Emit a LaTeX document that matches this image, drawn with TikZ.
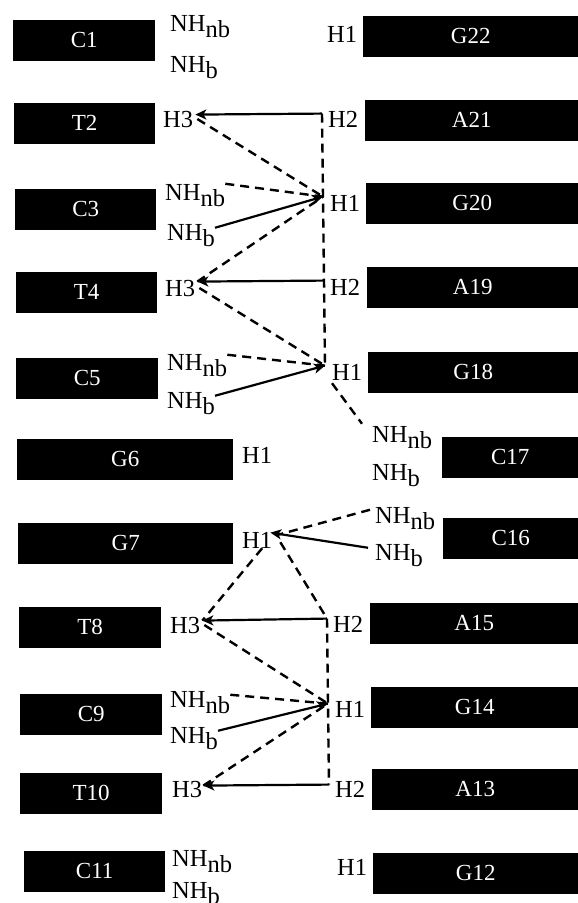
\documentclass[tikz,border=0pt]{standalone}
\usepackage{fontspec}
\setmainfont{Liberation Serif}
\usetikzlibrary{arrows.meta}
\usetikzlibrary{calc}
\newcommand{\lowsub}[1]{\raisebox{-6.5pt}{#1}}

\begin{document}
\begin{tikzpicture}[x=1pt, y=-1pt,
    strand/.style={fill=black, text=white, inner sep=0pt, minimum height=41pt, anchor=west, font=\fontsize{23}{23}\selectfont},
    lab/.style={inner sep=0pt, anchor=base west, font=\fontsize{24.5}{24.5}\selectfont},
    hbond/.style={line width=2.4pt, dash pattern=on 9pt off 6pt},
    bond/.style={line width=2.2pt},
    tip/.style={-{Stealth[length=11pt,width=10pt,inset=3pt]}}]
  \useasboundingbox (0,0) rectangle (578,903);

  \node[strand, minimum width=142pt] (c1) at (13,40) {C1};
  \node[strand, minimum width=141pt] (t2) at (14,123) {T2};
  \node[strand, minimum width=141pt] (c3) at (15,209) {C3};
  \node[strand, minimum width=141pt] (t4) at (16,292) {T4};
  \node[strand, minimum width=142pt] (c5) at (16,378) {C5};
  \node[strand, minimum width=216pt] (g6) at (17,459) {G6};
  \node[strand, minimum width=215pt] (g7) at (18,543) {G7};
  \node[strand, minimum width=142pt] (t8) at (19,627) {T8};
  \node[strand, minimum width=142pt] (c9) at (20,714) {C9};
  \node[strand, minimum width=142pt] (t10) at (20,793) {T10};
  \node[strand, minimum width=141pt] (c11) at (24,871) {C11};

  \node[strand, minimum width=215pt] (g22) at (363,36) {G22};
  \node[strand, minimum width=213pt] (a21) at (365,120) {A21};
  \node[strand, minimum width=212pt] (g20) at (366,203) {G20};
  \node[strand, minimum width=211pt] (a19) at (367,287) {A19};
  \node[strand, minimum width=210pt] (g18) at (368,372) {G18};
  \node[strand, minimum width=136pt] (c17) at (442,457) {C17};
  \node[strand, minimum width=135pt] (c16) at (443,538) {C16};
  \node[strand, minimum width=208pt] (a15) at (370,623) {A15};
  \node[strand, minimum width=207pt] (g14) at (371,707) {G14};
  \node[strand, minimum width=206pt] (a13) at (372,789) {A13};
  \node[strand, minimum width=205pt] (g12) at (373,873) {G12};

  \node[lab] (nbc1) at (170,31) {NH\lowsub{nb}};
  \node[lab] (bc1) at (170,72) {NH\lowsub{b}};
  \node[lab] (ht2) at (163,127) {H3};
  \node[lab] (nbc3) at (165,200) {NH\lowsub{nb}};
  \node[lab] (bc3) at (167,240) {NH\lowsub{b}};
  \node[lab] (ht4) at (165,296) {H3};
  \node[lab] (nbc5) at (167,370) {NH\lowsub{nb}};
  \node[lab] (bc5) at (167,408) {NH\lowsub{b}};
  \node[lab] (hg6) at (242,463) {H1};
  \node[lab] (hg7) at (242,548) {H1};
  \node[lab] (ht8) at (170,633) {H3};
  \node[lab] (nbc9) at (170,707) {NH\lowsub{nb}};
  \node[lab] (bc9) at (170,743) {NH\lowsub{b}};
  \node[lab] (ht10) at (172,797) {H3};
  \node[lab] (nbc11) at (172,866) {NH\lowsub{nb}};
  \node[lab] (bc11) at (172,898) {NH\lowsub{b}};

  \node[lab] (hg22) at (327,42) {H1};
  \node[lab] (ha21) at (328,127) {H2};
  \node[lab] (hg20) at (330,211) {H1};
  \node[lab] (ha19) at (330,295) {H2};
  \node[lab] (hg18) at (332,380) {H1};
  \node[lab] (nbc17) at (372,442) {NH\lowsub{nb}};
  \node[lab] (bc17) at (372,480) {NH\lowsub{b}};
  \node[lab] (nbc16) at (375,523) {NH\lowsub{nb}};
  \node[lab] (bc16) at (375,560) {NH\lowsub{b}};
  \node[lab] (ha15) at (333,632) {H2};
  \node[lab] (hg14) at (335,717) {H1};
  \node[lab] (ha13) at (335,797) {H2};
  \node[lab] (hg12) at (337,875) {H1};

  \coordinate (tt2) at ([xshift=2pt,yshift=-4pt]ht2.north east);
  \coordinate (tt4) at ([xshift=2pt,yshift=-2pt]ht4.north east);
  \coordinate (tt8) at ([xshift=2pt,yshift=-4pt]ht8.north east);
  \coordinate (tt10) at ([xshift=1pt,yshift=-5pt]ht10.north east);
  \coordinate (ka21) at ([xshift=-6pt,yshift=-3pt]ha21.north west);
  \coordinate (ka19) at ([xshift=-6pt,yshift=-2pt]ha19.north west);
  \coordinate (ka15) at ([xshift=-6pt,yshift=-3pt]ha15.north west);
  \coordinate (ka13) at ([xshift=-6pt,yshift=-4pt]ha13.north west);
  \coordinate (pg20) at ([xshift=-7pt,yshift=-2pt]hg20.north west);
  \coordinate (pg18) at ([xshift=-7pt,yshift=-2pt]hg18.north west);
  \coordinate (pg14) at ([xshift=-7pt,yshift=-3pt]hg14.north west);
  \coordinate (pg7) at ([xshift=-2pt,yshift=-1pt]hg7.north east);

  \draw[hbond] (ka21) -- (pg20) -- (ka19) -- (pg18);
  \draw[bond, tip] (ka21) -- (tt2);
  \draw[hbond] ([xshift=4pt]ht2.east) -- (pg20);
  \draw[hbond] (nbc3.north east) -- (pg20);
  \draw[bond, tip] ([yshift=-4pt]bc3.north east) -- (pg20);
  \draw[hbond] (tt4) -- (pg20);
  \draw[bond, tip] (ka19) -- (tt4);
  \draw[hbond] ([xshift=4pt]ht4.east) -- (pg18);
  \draw[hbond] ([yshift=-1pt]nbc5.north east) -- (pg18);
  \draw[bond, tip] ([yshift=-4pt]bc5.north east) -- (pg18);
  \draw[hbond] ([yshift=-3pt]hg18.south west) -- ([xshift=-10pt,yshift=2pt]nbc17.north west);

  \draw[hbond] ([xshift=-5pt,yshift=-3pt]nbc16.north west) -- ([xshift=5pt,yshift=5pt]hg7.east);
  \draw[bond, tip] ([xshift=-7pt,yshift=-4pt]bc16.north west) -- (pg7);
  \draw[hbond] ([xshift=5pt]hg7.south) -- (tt8);
  \draw[hbond] ([xshift=8pt,yshift=6pt]hg7.south east) -- (ka15);
  \draw[bond, tip] (ka15) -- (tt8);
  \draw[hbond] (ka15) -- (pg14) -- (ka13);
  \draw[hbond] ([xshift=4pt]ht8.east) -- (pg14);
  \draw[hbond] ([yshift=-4pt]nbc9.north east) -- (pg14);
  \draw[bond, tip] ([yshift=-4pt]bc9.north east) -- (pg14);
  \draw[hbond] (tt10) -- (pg14);
  \draw[bond, tip] (ka13) -- (tt10);
\end{tikzpicture}
\end{document}
